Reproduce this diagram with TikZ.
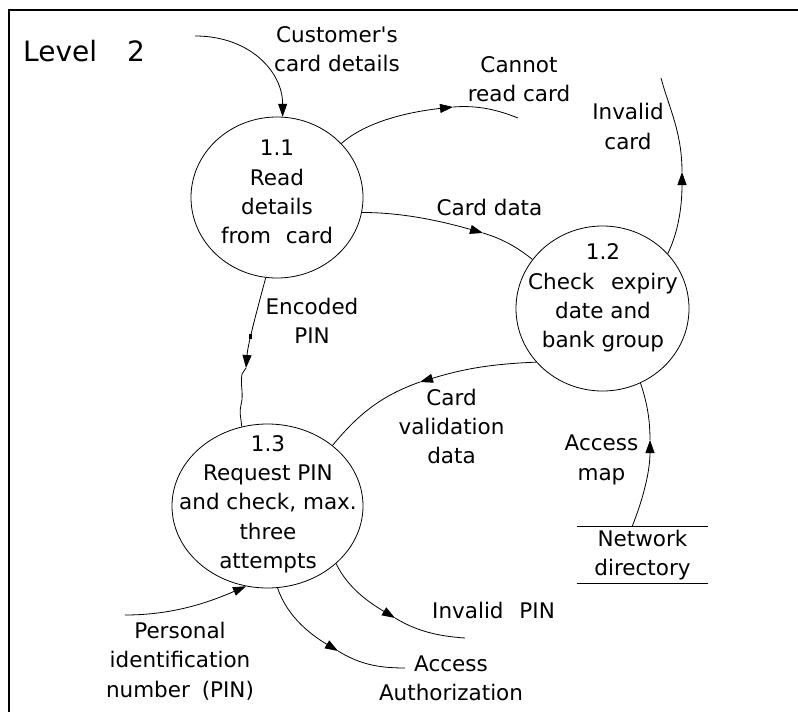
\documentclass[tikz,border=0pt]{standalone}
\usepackage{fontspec}
\setmainfont{DejaVu Sans}[Ligatures=TeXOff]
\usetikzlibrary{shapes.geometric,arrows.meta}
\begin{document}
\begin{tikzpicture}[x=1pt,y=-1pt,
  lbl/.style={align=center,font=\fontsize{21.5}{29.3}\selectfont,inner sep=0pt},
  proc/.style={ellipse,draw,line width=0.8pt,inner sep=0pt},
  flow/.style={line width=0.8pt},
  tip/.style={flow,-{Triangle[length=13pt,width=9pt]}}]
\useasboundingbox (0,0) rectangle (798,712);
% frame
\draw[line width=1.3pt] (9,712) -- (9,10) -- (798,10);
\node[anchor=base west,font=\fontsize{28}{32}\selectfont,inner sep=0pt] (title) at (23,61) {Level\hspace{30pt}2};

% processes
\node[proc,minimum width=172pt,minimum height=161pt] (p11) at (277,197.5) {};
\node[lbl] (t11) at (277,192) {1.1\\Read\\details\\from\hspace{8pt} card};
\node[proc,minimum width=173pt,minimum height=165pt] (p12) at (602.5,308.5) {};
\node[lbl] (t12) at (603,298) {1.2\\Check\hspace{10pt} expiry\\date and\\bank group};
\node[proc,minimum width=191pt,minimum height=164pt] (p13) at (267.5,506) {};
\node[lbl] (t13) at (268,504) {1.3\\Request PIN\\and check, max.\\three\\attempts};

% data store
\node[lbl,minimum width=131pt,minimum height=56pt] (nd) at (642.5,555) {Network\\directory};
\draw[flow] (nd.north west) -- (nd.north east);
\draw[flow] (nd.south west) -- (nd.south east);

% labels
\node[lbl] (lcc) at (337,49) {Customer's\\card details};
\node[lbl] (lcr) at (519,79.5) {Cannot\\read card};
\node[lbl] (lic) at (628,126.5) {Invalid\\card};
\node[lbl] (lcd) at (489.5,207) {Card data};
\node[lbl] (lep) at (312,321) {Encoded\\PIN};
\node[lbl] (lcv) at (451.5,426.5) {Card\\validation\\data};
\node[lbl] (lam) at (601.5,460) {Access\\map};
\node[lbl] (lip) at (493.5,610) {Invalid\hspace{9pt} PIN};
\node[lbl] (laa) at (451,678) {Access\\Authorization};
\node[lbl] (lpin) at (180,661) {Personal\\identification\\number\hspace{5pt} (PIN)};

% free ends and arrow points
\coordinate (scc) at (195,36);
\coordinate (acr) at (453,107);
\coordinate (ecr) at (518,118);
\coordinate (acd) at (483,233);
\coordinate (aic) at (682,172);
\coordinate (eic) at (661,78);
\coordinate (aep) at (246,368);
\coordinate (acv) at (420,382);
\coordinate (aam) at (650,440);
\coordinate (aip) at (395,618);
\coordinate (eip) at (465,638);
\coordinate (aaa) at (338,651);
\coordinate (eaa) at (405,668);
\coordinate (spin) at (125,615);

% flows
\draw[tip] (scc) .. controls +(55,0) and +(0,-45) .. (p11.86);

\draw[tip] (p11.40) .. controls +(25,-22) and +(-45,5) .. (acr);
\draw[flow] (acr) .. controls +(25,-2) and +(-20,-8) .. (ecr);

\draw[tip] (p11.-10) .. controls +(45,0) and +(-35,-10) .. (acd);
\draw[flow] (acd) .. controls +(20,6) and +(-15,-12) .. (p12.145);

\draw[tip] (p12.40) .. controls +(12,-25) and +(0,30) .. (aic);
\draw[flow] (aic) .. controls +(0,-40) and +(8,30) .. (eic);

\draw[tip] (p11.-98) .. controls +(-8,30) and +(2,-25) .. (aep);
\draw[flow] (aep) -- (242,374) .. controls (240,385) and (244,394) .. (241,405)
   .. controls (239,412) and (241,418) .. (p13.108);
\fill (248.5,334) rectangle +(3,5);

\draw[tip] (p12.-141.6) .. controls +(-50,2) and +(40,-12) .. (acv);
\draw[flow] (acv) .. controls +(-40,14) and +(25,-30) .. (p13.43);

\draw[tip] ([xshift=-10.5pt]nd.north) .. controls +(12,-30) and +(0,30) .. (aam);
\draw[flow] (aam) .. controls +(0,-25) and +(5,15) .. (p12.-63.3);

\draw[tip] (p13.-40.7) .. controls +(12,25) and +(-25,-15) .. (aip);
\draw[flow] (aip) .. controls +(20,12) and +(-30,-2) .. (eip);

\draw[tip] (p13.-83.4) .. controls +(10,30) and +(-25,-15) .. (aaa);
\draw[flow] (aaa) .. controls +(20,12) and +(-30,0) .. (eaa);

\draw[tip] (spin) .. controls +(50,0) and +(-35,15) .. (p13.-105.5);
\end{tikzpicture}
\end{document}
